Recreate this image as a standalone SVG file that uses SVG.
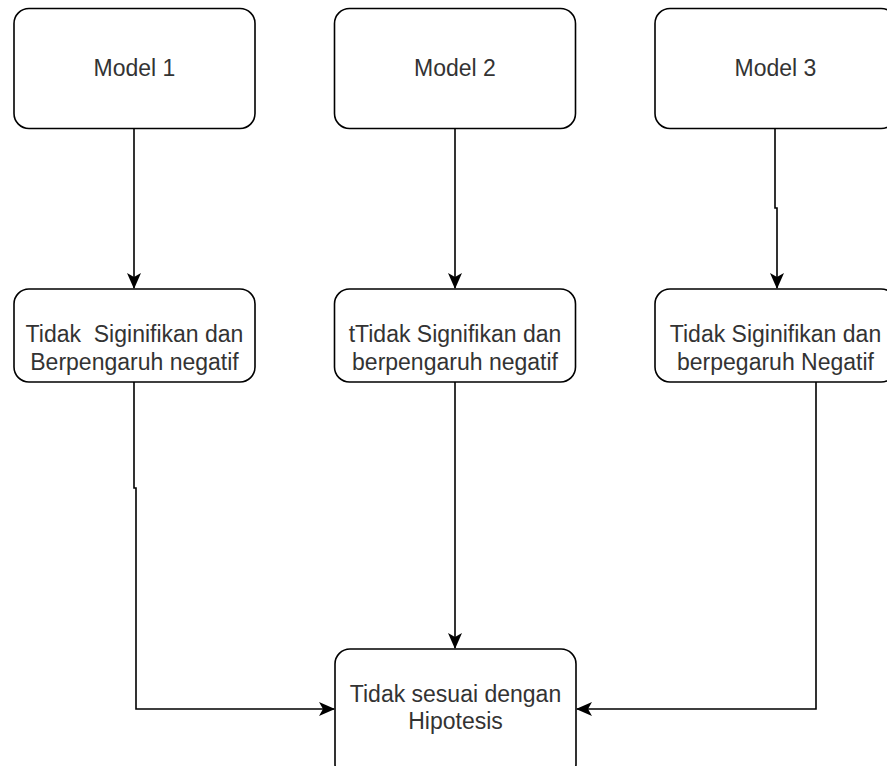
<svg xmlns="http://www.w3.org/2000/svg" width="887" height="766" viewBox="0 0 887 766">
<defs>
<style>
.box{fill:#fff;stroke:#000;stroke-width:1.6}
.lbl{font-family:"Liberation Sans",Arial,sans-serif;font-size:23px;fill:#333;text-anchor:middle;white-space:pre}
.edge{fill:none;stroke:#000;stroke-width:1.6}
</style>
<marker id="arr" viewBox="0 0 16 14" refX="15" refY="7" markerWidth="16" markerHeight="14" markerUnits="userSpaceOnUse" orient="auto">
<path d="M0,0 L16,7 L0,14 L4,7 Z" fill="#000"/>
</marker>
</defs>
<rect width="887" height="766" fill="#fff"/>
<g id="connectors">
<path class="edge" d="M134,128 V288" marker-end="url(#arr)"/>
<path class="edge" d="M455,128 V288" marker-end="url(#arr)"/>
<path class="edge" d="M775,128 V208 H777 V288" marker-end="url(#arr)"/>
<path class="edge" d="M134,382 V488 H136 V709 H334" marker-end="url(#arr)"/>
<path class="edge" d="M455,382 V648" marker-end="url(#arr)"/>
<path class="edge" d="M816,382 V709 H577" marker-end="url(#arr)"/>
</g>
<g id="model1">
<rect class="box" x="14" y="8.5" width="241" height="120" rx="15"/>
<text class="lbl" x="134.5" y="76">Model 1</text>
</g>
<g id="model2">
<rect class="box" x="334.5" y="8.5" width="241" height="120" rx="15"/>
<text class="lbl" x="455" y="76">Model 2</text>
</g>
<g id="model3">
<rect class="box" x="655" y="8.5" width="241" height="120" rx="15"/>
<text class="lbl" x="775.5" y="76">Model 3</text>
</g>
<g id="result1">
<rect class="box" x="14" y="289" width="241" height="93" rx="15"/>
<text class="lbl" x="134.5" y="342" xml:space="preserve">Tidak  Siginifikan dan</text>
<text class="lbl" x="134.5" y="370">Berpengaruh negatif</text>
</g>
<g id="result2">
<rect class="box" x="334.5" y="289" width="241" height="93" rx="15"/>
<text class="lbl" x="455" y="342">tTidak Signifikan dan</text>
<text class="lbl" x="455" y="370">berpengaruh negatif</text>
</g>
<g id="result3">
<rect class="box" x="655" y="289" width="241" height="93" rx="15"/>
<text class="lbl" x="775.5" y="342">Tidak Siginifikan dan</text>
<text class="lbl" x="775.5" y="370">berpegaruh Negatif</text>
</g>
<g id="conclusion">
<rect class="box" x="335" y="649" width="241" height="130" rx="15"/>
<text class="lbl" x="455.5" y="702">Tidak sesuai dengan</text>
<text class="lbl" x="455.5" y="729">Hipotesis</text>
</g>
</svg>
